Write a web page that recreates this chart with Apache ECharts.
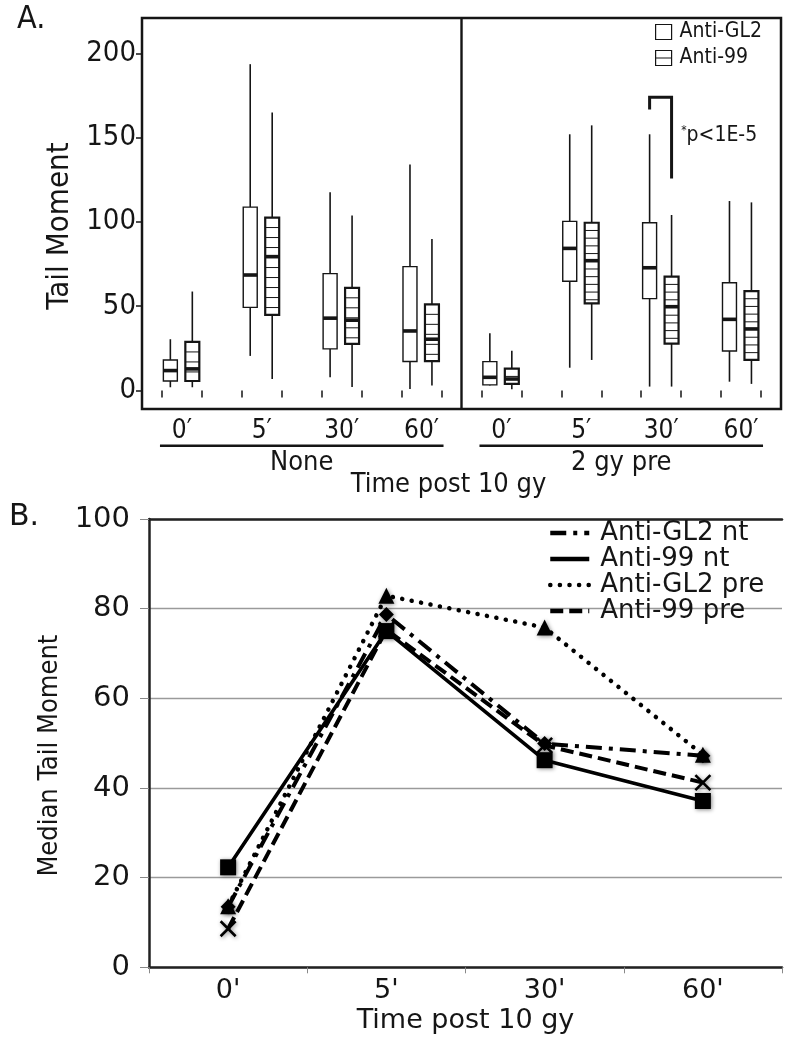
<!DOCTYPE html>
<html><head><meta charset="utf-8">
<script src="https://cdn.jsdelivr.net/npm/echarts@6/dist/echarts.min.js"></script>
<style>html,body{margin:0;padding:0;background:#fff}#c{width:798px;height:1050px}</style>
</head><body><div id="c"></div>
<script>
// ---------- DATA ----------
const timePoints = ["0'", "5'", "30'", "60'"];
const treatments = ['None', '2 gy pre'];
const boxNames = ['Anti-GL2', 'Anti-99'];
// [min, Q1, median, Q3, max]; order: None 0',5',30',60', then 2 gy pre 0',5',30',60'
const antiGL2Box = [
  [1.9, 5.6, 11.8, 18.1, 30.4],
  [20.5, 49.3, 68.5, 108.8, 193.6],
  [7.8, 24.7, 42.9, 69.3, 117.6],
  [0.8, 17.2, 35.3, 73.5, 134.1],
  [3.0, 3.3, 7.8, 17.1, 33.9],
  [13.5, 64.8, 84.3, 100.3, 152],
  [2.3, 54.5, 72.8, 99.5, 152],
  [5.2, 23.4, 42.2, 63.9, 112.4]
];
const anti99Box = [
  [1.9, 5.6, 12.8, 28.8, 58.7],
  [6.8, 44.8, 79.4, 102.6, 165],
  [2.0, 27.7, 41.7, 60.9, 103.8],
  [3.0, 17.4, 30.4, 51.1, 89.8],
  [0.7, 3.9, 6.8, 12.9, 23.6],
  [18.1, 51.7, 77.0, 99.5, 157.3],
  [2.3, 27.8, 49.7, 67.5, 104.1],
  [3.9, 18.1, 36.5, 59.0, 111.6]
];
const tickValuesA = [0, 50, 100, 150, 200];
// significance bracket: [group slot, left leg bottom, top, right leg bottom]
const sigBracket = [6, 166.7, 174, 125.7];
const sigText = 'p<1E-5';

const lineNames = ['Anti-GL2 nt', 'Anti-99 nt', 'Anti-GL2 pre', 'Anti-99 pre'];
const medianGL2nt = [13.5, 78.7, 49.9, 47.2];
const median99nt = [22.3, 75.0, 46.2, 37.1];
const medianGL2pre = [13.6, 82.9, 75.8, 47.4];
const median99pre = [8.6, 75.3, 49.5, 41.2];
const xNameB = 'Time post 10 gy';
const yNameB = 'Median Tail Moment';

// ---------- STYLE ----------
const COND = "'DejaVu Sans Condensed', 'Liberation Sans Narrow', 'DejaVu Sans', sans-serif";
const SANS = "'DejaVu Sans', Verdana, sans-serif";
const INK = '#151515';
const OFF = [-0.29, 0.26];           // box offsets within a time slot
const nT = timePoints.length;
const slotX = g => 2 * g + 1;        // slot centre on the panel-A value axis
const labelsA = timePoints.map(s => s.replace("'", '\u2032'));
const tickA = [];
for (let g = 0; g < nT * treatments.length; g++) { tickA.push(slotX(g) - 0.5, slotX(g) + 0.5); }
const labelPosA = [];
for (let g = 0; g < nT * treatments.length; g++) labelPosA.push(slotX(g));
const groupPos = treatments.map((t, i) => i * 2 * nT + nT);
const maxXA = nT * treatments.length * 2;

function boxRender(striped, offset) {
  return function (params, api) {
    const x = api.value(0) + offset;
    const v = [1, 2, 3, 4, 5].map(i => api.value(i));
    const p = v.map(val => api.coord([x, val]));
    const w = api.size([0.35, 0])[0];
    const cx = p[2][0], l = cx - w / 2, r = cx + w / 2;
    const ch = [
      { type: 'line', shape: { x1: cx, y1: p[4][1], x2: cx, y2: p[3][1] }, style: { stroke: INK, lineWidth: 1.6 } },
      { type: 'line', shape: { x1: cx, y1: p[1][1], x2: cx, y2: p[0][1] }, style: { stroke: INK, lineWidth: 1.6 } },
      { type: 'rect', shape: { x: l, y: p[3][1], width: w, height: p[1][1] - p[3][1] }, style: { fill: '#fff', stroke: INK, lineWidth: striped ? 2.2 : 1.4 } }
    ];
    if (striped) {
      const step = x < maxXA / 2 ? 10 : 7.7;
      for (let y = p[3][1] + step; y < p[1][1] - 2; y += step)
        ch.push({ type: 'line', shape: { x1: l, y1: y, x2: r, y2: y }, style: { stroke: INK, lineWidth: 1 } });
    }
    ch.push({ type: 'line', shape: { x1: l, y1: p[2][1], x2: r, y2: p[2][1] }, style: { stroke: INK, lineWidth: 3.6 } });
    return { type: 'group', children: ch };
  };
}

const chart = echarts.init(document.getElementById('c'), null, { renderer: 'canvas' });

const markerStyle = { color: '#000', shadowBlur: 4, shadowColor: 'rgba(0,0,0,0.45)', shadowOffsetX: 1, shadowOffsetY: 1 };

const option = {
  animation: false,
  backgroundColor: '#fff',
  title: [
    { text: 'A.', left: 17, top: 4, padding: 0, textStyle: { fontSize: 32, fontWeight: 'normal', fontFamily: COND, color: INK } },
    { text: 'B.', left: 9, top: 502, padding: 0, textStyle: { fontSize: 30, fontWeight: 'normal', fontFamily: SANS, color: INK } }
  ],
  legend: [
    {
      orient: 'vertical', left: 655, top: 21, padding: 0, itemWidth: 16, itemHeight: 15, itemGap: 4, selectedMode: false,
      textStyle: { fontSize: 21, fontFamily: COND, color: INK, lineHeight: 22, padding: [0, 0, 0, 3] },
      data: [
        { name: boxNames[0], icon: 'rect', itemStyle: { color: '#fff', borderColor: INK, borderWidth: 1.2 } },
        { name: boxNames[1], icon: 'path://M0,0L16,0L16,15L0,15Z M0,7.5L16,7.5', itemStyle: { color: '#fff', borderColor: INK, borderWidth: 1.2 } }
      ]
    },
    {
      orient: 'vertical', left: 548, top: 520, padding: 0, itemWidth: 39, itemHeight: 4, itemGap: 0, selectedMode: false,
      textStyle: { fontSize: 26, fontFamily: SANS, color: INK, lineHeight: 22.5, padding: [0, 0, 0, 6] },
      itemStyle: { opacity: 0 },
      lineStyle: { width: 4.5 },
      data: lineNames
    }
  ],
  grid: [
    { left: 142, right: 17, top: 18, height: 391, show: true, borderColor: INK, borderWidth: 2.5, backgroundColor: 'transparent' },
    { left: 149, right: 16, top: 519, height: 448.3 }
  ],
  xAxis: [
    {
      gridIndex: 0, type: 'value', min: 0, max: maxXA, position: 'bottom',
      axisLine: { show: false }, splitLine: { show: false },
      axisTick: { show: true, customValues: tickA, length: 7, lineStyle: { color: INK, width: 1.5 } },
      axisLabel: { customValues: labelPosA, formatter: v => labelsA[((v - 1) / 2) % nT], fontSize: 26, margin: 9, fontFamily: COND, color: INK },
      name: xNameB, nameLocation: 'middle', nameGap: 62,
      nameTextStyle: { fontSize: 27, fontFamily: COND, color: INK, padding: [0, 26, 0, 0] }
    },
    {
      gridIndex: 0, type: 'value', min: 0, max: maxXA, position: 'bottom',
      axisLine: { show: false }, axisTick: { show: false }, splitLine: { show: false },
      axisLabel: { customValues: groupPos, formatter: v => treatments[(v - nT) / (2 * nT)], fontSize: 27, margin: 40, fontFamily: COND, color: INK }
    },
    {
      gridIndex: 1, type: 'category', data: timePoints, boundaryGap: true,
      axisLine: { lineStyle: { color: '#222', width: 2.5 } },
      axisTick: { show: true, length: 6, lineStyle: { color: '#888' } },
      axisLabel: { fontSize: 27, margin: 10, fontFamily: SANS, color: INK },
      name: xNameB, nameLocation: 'middle', nameGap: 40,
      nameTextStyle: { fontSize: 27, fontFamily: SANS, color: INK }
    },
    {
      gridIndex: 1, type: 'category', data: timePoints, position: 'top',
      axisLine: { show: true, lineStyle: { color: '#222', width: 2.5 } },
      axisTick: { show: false }, axisLabel: { show: false }
    }
  ],
  yAxis: [
    {
      gridIndex: 0, type: 'value', min: -11, max: 221,
      axisLine: { show: false }, splitLine: { show: false },
      axisTick: { show: true, customValues: tickValuesA, length: 6, lineStyle: { color: INK, width: 1.5 } },
      axisLabel: { customValues: tickValuesA, fontSize: 29, margin: 6, fontFamily: COND, color: INK },
      name: 'Tail Moment', nameLocation: 'middle', nameGap: 65,
      nameTextStyle: { fontSize: 31, fontFamily: COND, color: INK, padding: [0, 25, 0, 0] }
    },
    {
      gridIndex: 1, type: 'value', min: 0, max: 100, interval: 20,
      axisLine: { show: true, lineStyle: { color: '#222', width: 2.5 } },
      axisTick: { show: true, length: 9, lineStyle: { color: '#888' } },
      axisLabel: { fontSize: 29, margin: 19, fontFamily: SANS, color: INK },
      splitLine: { lineStyle: { color: '#9a9a9a', width: 1.3 } },
      name: yNameB, nameLocation: 'middle', nameGap: 75,
      nameTextStyle: { fontSize: 27, fontFamily: COND, color: INK, padding: [0, 25, 0, 0] }
    }
  ],
  series: [
    {
      type: 'custom', name: boxNames[0], xAxisIndex: 0, yAxisIndex: 0, itemStyle: { color: '#fff' },
      encode: { x: 0, y: [1, 2, 3, 4, 5] }, renderItem: boxRender(false, OFF[0]),
      data: antiGL2Box.map((s, g) => [slotX(g)].concat(s))
    },
    {
      type: 'custom', name: boxNames[1], xAxisIndex: 0, yAxisIndex: 0, itemStyle: { color: '#fff' },
      encode: { x: 0, y: [1, 2, 3, 4, 5] }, renderItem: boxRender(true, OFF[1]),
      data: anti99Box.map((s, g) => [slotX(g)].concat(s))
    },
    {
      type: 'custom', name: 'divider', xAxisIndex: 0, yAxisIndex: 0, silent: true,
      encode: { x: 0 },
      renderItem: function (params, api) {
        const cs = params.coordSys;
        const x = api.coord([api.value(0), 0])[0];
        return { type: 'line', shape: { x1: x, y1: cs.y, x2: x, y2: cs.y + cs.height }, style: { stroke: INK, lineWidth: 2.4 } };
      },
      data: [[maxXA / 2]]
    },
    {
      type: 'custom', name: 'significance', xAxisIndex: 0, yAxisIndex: 0, silent: true,
      encode: { x: 0, y: [1, 2, 3] },
      renderItem: function (params, api) {
        const c = api.value(0);
        const a = api.coord([c + OFF[0], api.value(1)]);
        const b = api.coord([c + OFF[0], api.value(2)]);
        const d = api.coord([c + OFF[1], api.value(2)]);
        const e = api.coord([c + OFF[1], api.value(3)]);
        const t = api.coord([c + 0.5, 151.5]);
        return {
          type: 'group', children: [
            { type: 'polyline', shape: { points: [a, b, d, e] }, style: { stroke: INK, lineWidth: 3, fill: null } },
            {
              type: 'text', x: t[0], y: t[1],
              style: {
                text: '{s|*}' + sigText, fontSize: 21, fontFamily: COND, fill: INK, align: 'left', verticalAlign: 'middle',
                rich: { s: { fontSize: 12, fontFamily: COND, fill: INK, verticalAlign: 'top', padding: [0, 0, 0, 0] } }
              }
            }
          ]
        };
      },
      data: [[slotX(sigBracket[0]), sigBracket[1], sigBracket[2], sigBracket[3]]]
    },
    {
      type: 'line', name: lineNames[0], xAxisIndex: 2, yAxisIndex: 1, data: medianGL2nt,
      symbol: 'diamond', symbolSize: 15, itemStyle: markerStyle,
      lineStyle: { color: '#000', width: 4, type: [16, 7, 4, 7] }
    },
    {
      type: 'line', name: lineNames[1], xAxisIndex: 2, yAxisIndex: 1, data: median99nt,
      symbol: 'rect', symbolSize: 16, itemStyle: markerStyle,
      lineStyle: { color: '#000', width: 3.6, type: 'solid' }
    },
    {
      type: 'line', name: lineNames[2], xAxisIndex: 2, yAxisIndex: 1, data: medianGL2pre,
      symbol: 'triangle', symbolSize: 16, itemStyle: markerStyle,
      lineStyle: { color: '#000', width: 4.5, type: [0.1, 9.5], cap: 'round' }
    },
    {
      type: 'line', name: lineNames[3], xAxisIndex: 2, yAxisIndex: 1, data: median99pre,
      symbol: 'path://M0,0L10,10M10,0L0,10', symbolSize: 15,
      itemStyle: Object.assign({}, markerStyle, { borderColor: '#000', borderWidth: 2.6 }),
      lineStyle: { color: '#000', width: 4, type: [13, 6] }
    }
  ]
};
chart.setOption(option);

// group underlines under panel A (positions from the axis scale)
const yLine = 445.7;
const g = treatments.map((t, i) => {
  const x1 = chart.convertToPixel({ xAxisIndex: 0 }, i * 2 * nT + 0.45);
  const x2 = chart.convertToPixel({ xAxisIndex: 0 }, (i + 1) * 2 * nT - 0.45);
  return { type: 'line', shape: { x1: x1, y1: yLine, x2: x2, y2: yLine }, style: { stroke: INK, lineWidth: 2.6 } };
});
chart.setOption({ graphic: g });
</script></body></html>
